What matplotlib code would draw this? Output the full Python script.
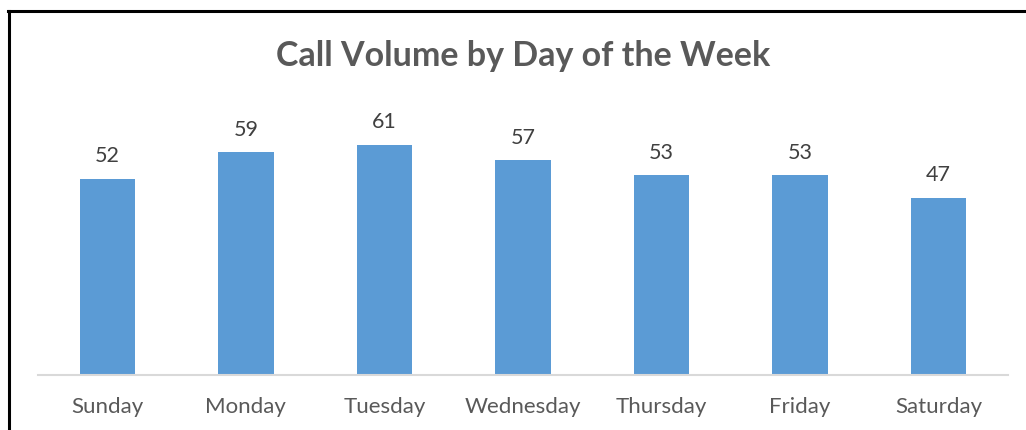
import matplotlib
matplotlib.use("Agg")
import matplotlib.pyplot as plt
from matplotlib.lines import Line2D

days = ["Sunday", "Monday", "Tuesday", "Wednesday", "Thursday", "Friday", "Saturday"]
calls = [52, 59, 61, 57, 53, 53, 47]

W, H = 1026, 430
fig = plt.figure(figsize=(W / 100, H / 100), dpi=100)
fig.patch.set_facecolor("white")

ax = fig.add_axes([38 / W, (H - 375) / H, (1008 - 38) / W, (375 - 111) / H])
x = range(len(days))
ax.bar(x, calls, width=0.4, color="#5B9BD5", zorder=2)
ax.set_xlim(-0.5, len(days) - 0.5)
ax.set_ylim(0, 70)
for xi, v in zip(x, calls):
    ax.annotate(str(v), (xi, v), xytext=(0, 9), textcoords="offset points",
                ha="center", va="bottom", fontsize=15.5, color="#404040", family="Lato")
ax.set_xticks(list(x))
ax.set_xticklabels(days, fontsize=16, color="#595959", family="Lato")
ax.tick_params(axis="x", length=0, pad=16)
ax.set_yticks([])
for s in ["top", "right", "left"]:
    ax.spines[s].set_visible(False)
ax.spines["bottom"].set_color("#D9D9D9")
ax.spines["bottom"].set_linewidth(1.5)

fig.text(523 / W, (H - 56) / H, "Call Volume by Day of the Week", ha="center", va="center",
         fontsize=24.5, fontweight="bold", color="#595959", family="Lato")

# outer border (left and top)
fig.add_artist(Line2D([9 / W, 9 / W], [0, (H - 11) / H], transform=fig.transFigure,
                      color="black", linewidth=2.2))
fig.add_artist(Line2D([8 / W, 1], [(H - 11) / H, (H - 11) / H], transform=fig.transFigure,
                      color="black", linewidth=2.2))

fig.savefig("out.png", dpi=100)
